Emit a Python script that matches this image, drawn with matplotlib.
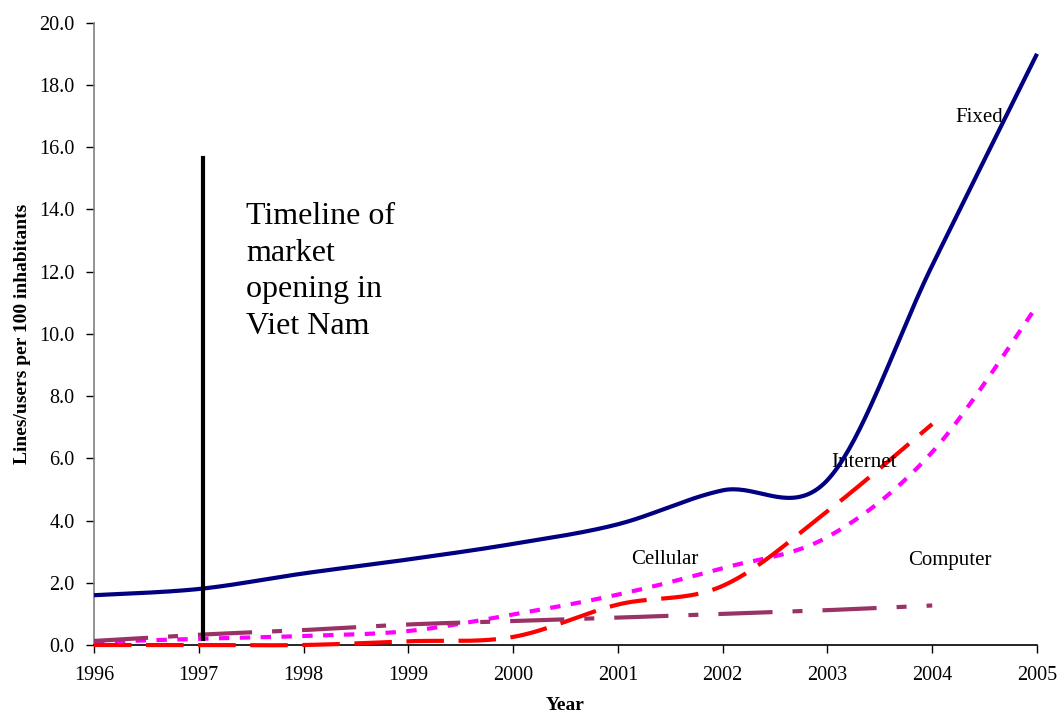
import numpy as np
import matplotlib
matplotlib.use("Agg")
import matplotlib.pyplot as plt

years = [1996, 1997, 1998, 1999, 2000, 2001, 2002, 2003, 2004, 2005]
fixed = [1.6, 1.8, 2.3, 2.75, 3.25, 3.88, 4.97, 5.3, 12.2, 19.0]
cellular = [0.1, 0.2, 0.29, 0.45, 0.98, 1.62, 2.47, 3.47, 6.2, 10.9]
internet_years = [1996, 1997, 1998, 1999, 2000, 2001, 2002, 2003, 2004]
internet = [0.0, 0.0, 0.0, 0.12, 0.26, 1.3, 1.9, 4.3, 7.1]
computer_years = [1996, 1997, 1998, 1999, 2000, 2001, 2002, 2003, 2004]
computer = [0.13, 0.33, 0.48, 0.66, 0.77, 0.88, 1.0, 1.12, 1.27]
ytick_vals = [0, 2, 4, 6, 8, 10, 12, 14, 16, 18, 20]
timeline_year = 1997.04
timeline_range = [0.2, 15.65]


def smooth(xs, ys, n=40):
    """Excel-style smoothed line (Bezier through points, Catmull-Rom tangents)."""
    xs = np.asarray(xs, float)
    ys = np.asarray(ys, float)
    P = np.column_stack([xs, ys])
    Pext = np.vstack([P[0], P, P[-1]])
    out = []
    t = np.linspace(0, 1, n)[:, None]
    for i in range(len(P) - 1):
        p0, p1, p2, p3 = Pext[i], Pext[i + 1], Pext[i + 2], Pext[i + 3]
        c1 = p1 + (p2 - p0) / 6.0
        c2 = p2 - (p3 - p1) / 6.0
        seg = ((1 - t) ** 3) * p1 + 3 * ((1 - t) ** 2) * t * c1 + 3 * (1 - t) * t ** 2 * c2 + t ** 3 * p2
        out.append(seg if i == 0 else seg[1:])
    S = np.vstack(out)
    return S[:, 0], S[:, 1]


plt.rcParams['font.family'] = ['Liberation Serif', 'DejaVu Serif']

fig = plt.figure(figsize=(10.59, 7.16), dpi=100)
ax = fig.add_axes([94 / 1059, 1 - 645 / 716, (1037 - 94) / 1059, (645 - 22.7) / 716])

x, y = smooth(years, fixed)
ax.plot(x, y, color='#000080', lw=3.0, solid_capstyle='butt', clip_on=False, zorder=4)
x, y = smooth(years, cellular)
ax.plot(x, y, color='#FF00FF', lw=3.0, dashes=(2.5, 2.5), clip_on=False, zorder=3)
x, y = smooth(internet_years, internet)
ax.plot(x, y, color='#FF0000', lw=3.0, dashes=(9, 3.5), clip_on=False, zorder=3)
x, y = smooth(computer_years, computer)
ax.plot(x, y, color='#993366', lw=3.0, dashes=(13, 4.8, 2.4, 4.8), clip_on=False, zorder=3)

ax.plot([timeline_year, timeline_year], timeline_range, color='black', lw=3.0, zorder=5)

ax.text(1997.45, 14.25, 'Timeline of\nmarket\nopening in\nViet Nam', fontsize=23,
        va='top', ha='left', linespacing=1.36)
ax.text(2004.45, 16.95, 'Fixed', fontsize=15, ha='center', va='center')
ax.text(2003.35, 5.85, 'Internet', fontsize=15, ha='center', va='center')
ax.text(2001.45, 2.75, 'Cellular', fontsize=15, ha='center', va='center')
ax.text(2004.17, 2.7, 'Computer', fontsize=15, ha='center', va='center')

ax.set_xlim(1996, 2005)
ax.set_ylim(0, 20)
ax.set_xticks(years)
ax.set_xticklabels([str(v) for v in years], fontsize=14.5)
ax.set_yticks(ytick_vals)
ax.set_yticklabels([f'{v:.1f}' for v in ytick_vals], fontsize=14.5)
ax.tick_params(axis='x', direction='out', length=6, width=1, pad=9, colors='black')
ax.tick_params(axis='y', direction='out', length=6, width=1, pad=8, colors='black')

for s in ['top', 'right']:
    ax.spines[s].set_visible(False)
ax.spines['left'].set_color('#808080')
ax.spines['left'].set_linewidth(1.2)
ax.spines['bottom'].set_color('black')
ax.spines['bottom'].set_linewidth(1.2)

ax.set_xlabel('Year', fontsize=14, fontweight='bold', labelpad=9)
ax.set_ylabel('Lines/users per 100 inhabitants', fontsize=14, fontweight='bold', labelpad=6)

fig.savefig('out.png', dpi=100)
